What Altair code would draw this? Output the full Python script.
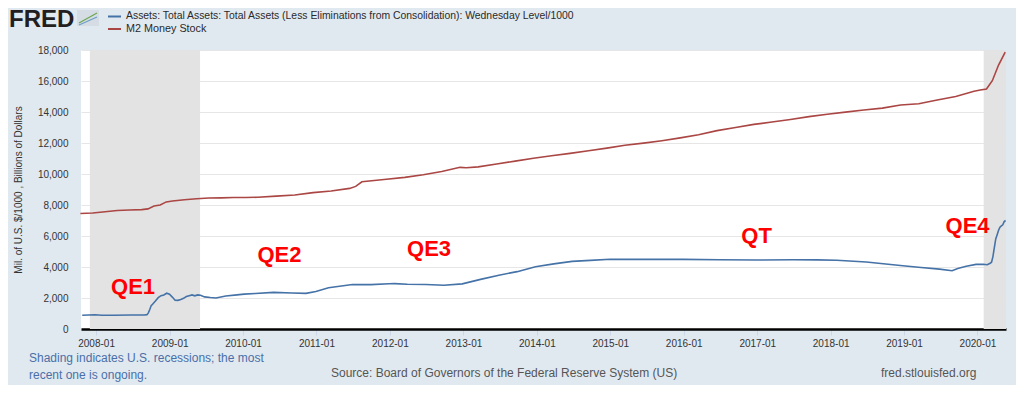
import altair as alt
import pandas as pd

# ---------------- data ----------------
asset_dates = [
    "2007-10-24", "2007-12-26", "2008-01-30", "2008-03-26", "2008-06-25", "2008-08-27",
    "2008-09-10", "2008-09-17", "2008-09-24", "2008-10-01", "2008-10-08", "2008-10-22",
    "2008-11-05", "2008-11-19", "2008-12-03", "2008-12-17", "2008-12-31", "2009-01-14",
    "2009-01-28", "2009-02-11", "2009-02-25", "2009-03-11", "2009-03-25", "2009-04-08",
    "2009-04-22", "2009-05-06", "2009-05-20", "2009-06-03", "2009-06-24", "2009-07-22",
    "2009-08-19", "2009-10-07", "2009-12-02", "2010-01-06", "2010-03-03", "2010-06-02",
    "2010-09-01", "2010-11-10", "2010-12-29", "2011-03-02", "2011-06-29", "2011-09-28",
    "2011-12-28", "2012-01-25", "2012-03-28", "2012-06-27", "2012-09-26", "2012-12-26",
    "2013-03-27", "2013-06-26", "2013-09-25", "2013-12-25", "2014-03-26", "2014-06-25",
    "2014-09-24", "2014-12-31", "2015-06-24", "2015-12-30", "2016-06-29", "2016-12-28",
    "2017-06-28", "2017-10-25", "2018-01-31", "2018-06-27", "2018-12-26", "2019-03-27",
    "2019-06-26", "2019-08-28", "2019-09-25", "2019-11-06", "2019-12-25", "2020-01-29",
    "2020-02-19", "2020-03-04", "2020-03-11", "2020-03-18", "2020-03-25", "2020-04-01",
    "2020-04-08", "2020-04-15", "2020-04-22", "2020-04-29", "2020-05-06", "2020-05-13",
    "2020-05-20",
]
asset_values = [
    890, 915, 890, 890, 900, 905,
    925, 1040, 1260, 1510, 1600, 1800,
    2020, 2150, 2200, 2310, 2240, 2060,
    1860, 1850, 1900, 1980, 2090, 2150,
    2200, 2140, 2200, 2180, 2070, 2030,
    2000, 2130, 2200, 2250, 2290, 2360,
    2320, 2300, 2420, 2660, 2870, 2860,
    2920, 2930, 2890, 2870, 2820, 2910,
    3200, 3470, 3700, 4020, 4200, 4360,
    4430, 4500, 4490, 4490, 4470, 4450,
    4470, 4460, 4440, 4320, 4080, 3970,
    3860, 3760, 3900, 4050, 4170, 4180,
    4150, 4240, 4310, 4670, 5250, 5810,
    6080, 6370, 6570, 6650, 6720, 6930,
    7000,
]

m2_dates = [
    "2007-10-15", "2007-12-15", "2008-02-15", "2008-04-15", "2008-06-15", "2008-08-15",
    "2008-09-15", "2008-10-15", "2008-11-15", "2008-12-15", "2009-01-15", "2009-03-15",
    "2009-05-15", "2009-07-15", "2009-09-15", "2009-11-15", "2010-01-15", "2010-03-15",
    "2010-06-15", "2010-09-15", "2010-12-15", "2011-03-15", "2011-06-15", "2011-07-15",
    "2011-08-15", "2011-10-15", "2011-12-15", "2012-03-15", "2012-06-15", "2012-09-15",
    "2012-12-15", "2013-01-15", "2013-03-15", "2013-06-15", "2013-09-15", "2013-12-15",
    "2014-03-15", "2014-06-15", "2014-09-15", "2014-12-15", "2015-03-15", "2015-06-15",
    "2015-09-15", "2015-12-15", "2016-03-15", "2016-06-15", "2016-09-15", "2016-12-15",
    "2017-03-15", "2017-06-15", "2017-09-15", "2017-12-15", "2018-03-15", "2018-06-15",
    "2018-09-15", "2018-12-15", "2019-03-15", "2019-06-15", "2019-09-15", "2019-12-15",
    "2020-01-15", "2020-02-15", "2020-03-15", "2020-04-15", "2020-05-18",
]
m2_values = [
    7450, 7480, 7560, 7650, 7680, 7700,
    7750, 7930, 8000, 8200, 8260, 8340,
    8400, 8450, 8460, 8480, 8480, 8500,
    8570, 8650, 8800, 8900, 9070, 9200,
    9500, 9580, 9660, 9780, 9950, 10160,
    10430, 10400, 10460, 10650, 10830, 11020,
    11180, 11330, 11500, 11670, 11850, 11990,
    12150, 12330, 12530, 12800, 13000, 13200,
    13350, 13520, 13700, 13850, 13990, 14130,
    14250, 14450, 14530, 14780, 15000, 15340,
    15420, 15480, 16020, 17030, 17870,
]

series_names = [
    "Assets: Total Assets: Total Assets (Less Eliminations from Consolidation): Wednesday Level/1000",
    "M2 Money Stock",
]
series_colors = ["#4572a7", "#aa4643"]

recession_start = ["2007-12-01", "2020-02-01"]
recession_end = ["2009-06-01", "2020-05-22"]

annot_labels = ["QE1", "QE2", "QE3", "QT", "QE4"]
annot_dates = ["2008-07-03", "2010-07-01", "2012-07-14", "2016-12-29", "2019-11-13"]
annot_values = [2710, 4774, 5161, 6032, 6613]

y_ticks = list(range(0, 18001, 2000))
x_tick_years = list(range(2008, 2021))

y_title = "Mil. of U.S. $/1000 , Billions of Dollars"
footer_note = ["Shading indicates U.S. recessions; the most", "recent one is ongoing."]
source_text = "Source: Board of Governors of the Federal Reserve System (US)"
site_text = "fred.stlouisfed.org"
logo_text = "FRED"

# ---------------- tables ----------------
lines_df = pd.concat([
    pd.DataFrame({"date": asset_dates, "value": asset_values, "series": series_names[0]}),
    pd.DataFrame({"date": m2_dates, "value": m2_values, "series": series_names[1]}),
])
rec_df = pd.DataFrame({"start": recession_start, "end": recession_end})
ann_df = pd.DataFrame({"label": annot_labels, "date": annot_dates, "value": annot_values})

W, H = 925, 279
FONT = "Liberation Sans"

x_scale = alt.Scale(domain=[alt.DateTime(year=2007, month=10, date=18),
                            alt.DateTime(year=2020, month=5, date=22)])
y_scale = alt.Scale(domain=[0, 18000], nice=False)

x_axis = alt.Axis(
    values=[alt.DateTime(year=y, month=1, date=1) for y in x_tick_years],
    format="%Y-%m", title=None, grid=False,
    tickColor="#ccd6eb", tickSize=6, tickWidth=1,
    labelPadding=3, labelFontSize=10, labelColor="#333333", labelFont=FONT,
    domainColor="#000000", domainWidth=2.5,
)
y_axis = alt.Axis(
    values=y_ticks, format=",d", title=y_title, ticks=False, domain=False,
    gridColor="#e6e6e6", gridWidth=1,
    labelPadding=13, labelFontSize=10, labelColor="#333333", labelFont=FONT,
    titleFont=FONT, titleFontSize=10, titleFontWeight="normal", titleColor="#333333",
    titleX=-63, titleY=H / 2, titleAngle=-90, titleAlign="center", titleBaseline="middle",
)

rec = alt.Chart(rec_df).mark_rect(color="#e3e3e3").encode(
    x=alt.X("start:T", scale=x_scale, axis=x_axis),
    x2="end:T",
    y=alt.value(0),
    y2=alt.value(H),
)

lines = alt.Chart(lines_df).mark_line(strokeWidth=1.6).encode(
    x=alt.X("date:T", scale=x_scale, axis=x_axis),
    y=alt.Y("value:Q", scale=y_scale, axis=y_axis),
    color=alt.Color("series:N", scale=alt.Scale(domain=series_names, range=series_colors), legend=None),
    detail="series:N",
)

ann = alt.Chart(ann_df).mark_text(
    font=FONT, fontSize=22, fontWeight="bold", color="#ff0000", align="center", baseline="middle"
).encode(
    x=alt.X("date:T", scale=x_scale, axis=x_axis),
    y=alt.Y("value:Q", scale=y_scale, axis=y_axis),
    text="label:N",
)


def text_layer(txt, x, y, size, color, weight="normal", align="left", baseline="middle"):
    return alt.Chart(pd.DataFrame({"t": [txt]})).mark_text(
        font=FONT, fontSize=size, color=color, fontWeight=weight,
        align=align, baseline=baseline,
    ).encode(x=alt.value(x), y=alt.value(y), text="t:N")


one = pd.DataFrame({"k": [0]})

logo = text_layer(logo_text, -72, -23, 24, "#231f20", weight="bold", baseline="alphabetic")
icon = alt.Chart(one).mark_rect(color="#d5dce3").encode(
    x=alt.value(-4), x2=alt.value(18), y=alt.value(-40), y2=alt.value(-24))
icon_g = alt.Chart(one).mark_rule(color="#6aa84f", strokeWidth=1.2).encode(
    x=alt.value(-2), x2=alt.value(16), y=alt.value(-27), y2=alt.value(-37))
icon_b = alt.Chart(one).mark_rule(color="#6d9ec9", strokeWidth=1.2).encode(
    x=alt.value(-2), x2=alt.value(16), y=alt.value(-25), y2=alt.value(-33))

leg_rule_1 = alt.Chart(one).mark_rule(color=series_colors[0], strokeWidth=2).encode(
    x=alt.value(27), x2=alt.value(40), y=alt.value(-33.5), y2=alt.value(-33.5))
leg_rule_2 = alt.Chart(one).mark_rule(color=series_colors[1], strokeWidth=2).encode(
    x=alt.value(27), x2=alt.value(40), y=alt.value(-21), y2=alt.value(-21))
leg_txt_1 = text_layer(series_names[0], 45, -34, 10.4, "#2a2a2a")
leg_txt_2 = text_layer(series_names[1], 45, -21, 10.8, "#2a2a2a")

foot_1 = text_layer(footer_note[0], -52, 308, 12, "#4a6fa8")
foot_2 = text_layer(footer_note[1], -52, 325, 12, "#4a6fa8")
src = text_layer(source_text, 250, 323, 12, "#555555")
site = text_layer(site_text, 800, 323, 12, "#555555")

chart = alt.layer(
    rec, lines, ann,
    logo, icon, icon_g, icon_b,
    leg_rule_1, leg_rule_2, leg_txt_1, leg_txt_2,
    foot_1, foot_2, src, site,
).resolve_scale(x="shared", y="shared").properties(
    width=W, height=H,
    autosize=alt.AutoSizeParams(type="none"),
    padding={"left": 73, "top": 42, "right": 10, "bottom": 56},
    background="#e1e9f0",
).configure_view(
    stroke=None, fill="#ffffff"
)

chart.save("out.html", embed_options={"renderer": "svg", "actions": False})
